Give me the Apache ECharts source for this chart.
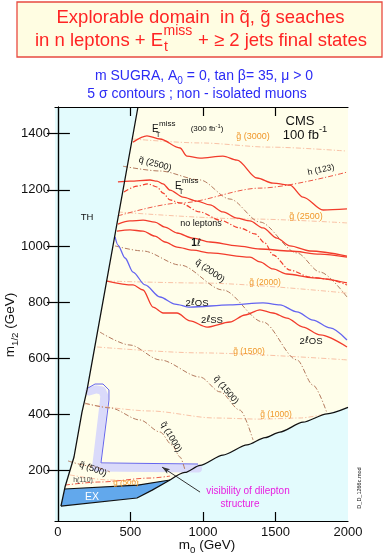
<!DOCTYPE html>
<html><head><meta charset="utf-8">
<script src="https://cdn.jsdelivr.net/npm/echarts@6/dist/echarts.min.js"></script>
<style>html,body{margin:0;padding:0;background:#fff}#c{width:384px;height:555px}</style>
</head><body><div id="c"></div>
<script>
// ---------- axis ticks ----------
const xTicks = [500, 1000, 1500];
const xLabels = [0, 500, 1000, 1500, 2000];
const yTicks = [200, 400, 600, 800, 1000, 1200, 1400];

// ---------- region boundaries  [m0, m1/2] ----------
const thBoundary = [[552,1495],[201,487],[166,408],[111,248],[49,141],[21,73]];
const exTop = [[46,134],[552,148],[773,166]];
const exBottom = [[21,73],[545,102],[650,130],[773,166]];
const lowerBoundary = [[773,166],[876,193],[980,218],[1138,255],[1304,291],[1428,317],[1531,337],[1690,372],[1855,402],[2000,425]];

// ---------- 5 sigma contours ----------
const etMiss300 = [[518,1370],[614,1392],[704,1381],[842,1349],[890,1320],[980,1313],[1138,1320],[1235,1306],[1373,1242],[1483,1224],[1600,1217],[1690,1174],[1828,1128],[1993,1132]];
const etMiss100 = [[414,1228],[497,1231],[635,1235],[683,1231],[725,1221],[773,1199],[862,1174],[959,1160],[1049,1146],[1138,1121],[1235,1099],[1324,1089],[1414,1064],[1510,1028],[1600,1000],[1738,982],[1993,964]];
const etMissDash = [[456,1192],[545,1213],[621,1221],[683,1210],[725,1188],[773,1164],[842,1153],[980,1121],[1118,1092],[1255,1064],[1359,1043],[1428,1010],[1483,968],[1600,914],[1738,889],[1855,882],[1993,861]];
const noLeptons = [[414,1078],[497,1089],[587,1092],[669,1085],[738,1067],[821,1046],[931,1028],[1049,1014],[1235,1000],[1393,989],[1600,982],[1807,971],[1993,960]];
const oneLepton = [[407,1053],[497,1057],[587,1053],[669,1035],[738,1014],[821,996],[931,985],[1049,975],[1324,960],[1393,943],[1483,918],[1579,900],[1759,886],[1993,868]];
const twoLepOSmu = [[394,1032],[414,1003],[463,957],[518,907],[601,861],[704,818],[807,793],[911,782],[1186,790],[1414,797],[1531,790],[1648,765],[1759,736],[1876,708],[1993,665]];
const twoLepSS = [[338,875],[518,861],[587,843],[656,782],[725,761],[821,761],[911,733],[1028,711],[1186,729],[1290,754],[1393,772],[1483,761],[1579,743],[1690,711],[1807,683],[1993,640]];

// ---------- iso-mass lines ----------
const sq2500 = [[449,1284],[704,1267],[980,1235],[1186,1167],[1393,1085],[1648,975],[1807,907],[1993,818]];
const sq2000 = [[394,1000],[587,982],[842,932],[1138,843],[1414,729],[1648,594],[1759,504],[1855,405]];
const sq1500 = [[290,693],[497,647],[704,594],[980,533],[1118,480],[1255,415],[1345,309]];
const sq1000 = [[187,440],[359,423],[566,380],[704,337],[787,291],[842,248],[876,202]];
const sq500 = [[70,234],[221,216],[359,195]];
const gl3000 = [[518,1381],[980,1367],[1462,1352],[1993,1338]];
const gl2500 = [[414,1121],[1324,1096],[1993,1082]];
const gl2000 = [[338,875],[980,868],[1993,832]];
const gl1500 = [[270,640],[980,619],[1993,594]];
const gl1000 = [[187,437],[635,412],[1083,387],[1393,383],[1669,387],[1842,401]];
const gl500 = [[83,184],[359,166],[566,159]];
const h123 = [[414,1107],[842,1153],[1393,1206],[1993,1263]];
const h110 = [[49,148],[290,159],[635,173],[773,180]];

// ---------- dilepton visibility band ----------
const bandEdge = [[208,494],[256,508],[311,508],[352,487],[352,451],[297,227],[966,223]];
const bandFill = [[216,482],[263,489],[304,485],[320,466],[314,433],[263,211],[966,207]];
const arrow = [[980,123],[718,212]];

const FF = '"Liberation Sans", Arial, "DejaVu Sans", sans-serif';
const RED = '#f23c2c', BLUE = '#6464f0', BROWN = '#b47a5e', PALE = '#f9c2a6', HRED = '#ee5846', ORANGE = '#f0982c';
const LIGHT = '#e3fbfd', CREAM = '#fffeea', EXBLUE = '#62a8ec';
const DD = [5, 2, 1.2, 2];

function ln(data, color, width, type, z, smooth) {
  return { type: 'line', data: data, symbol: 'none', showSymbol: false, silent: true,
    smooth: smooth === undefined ? 0.3 : smooth, smoothMonotone: 'x', z: z, animation: false,
    lineStyle: { color: color, width: width, type: type } };
}
function poly(points, fill, z) {
  return { type: 'custom', coordinateSystem: 'cartesian2d', data: [[0, 0]], z: z, silent: true, animation: false, clip: true,
    renderItem: function (params, api) {
      return { type: 'polygon', shape: { points: points.map(p => api.coord(p)) }, style: { fill: fill } };
    } };
}
const creamPoly = [...thBoundary.slice(0, 5), ...exTop, ...lowerBoundary.slice(1), [2000, 1495]];
const exPoly = [exTop[0], thBoundary[5], ...exBottom.slice(1), exTop[2], exTop[1]];

const lavender = ln(bandFill, '#dadafa', 8, 'solid', 2, false);
lavender.lineStyle.cap = 'round'; lavender.lineStyle.join = 'round';
const lower = ln(lowerBoundary, '#111', 1.3, 'solid', 8, 0.25);
lower.markLine = { silent: true, animation: false, symbol: ['none', 'arrow'], symbolSize: [4, 8],
  label: { show: false }, lineStyle: { color: '#333', width: 1, type: 'solid' },
  data: [[{ coord: arrow[0] }, { coord: arrow[1] }]] };

const series = [
  poly(creamPoly, CREAM, 1),
  poly(exPoly, EXBLUE, 1),
  lavender,
  ln(bandEdge, BLUE, 1, 'solid', 3, false),
  ln(gl3000, PALE, 1, DD, 3), ln(gl2500, PALE, 1, DD, 3), ln(gl2000, PALE, 1, DD, 3),
  ln(gl1500, PALE, 1, DD, 3), ln(gl1000, PALE, 1, DD, 3), ln(gl500, PALE, 1, DD, 3),
  ln(sq2500, BROWN, 1, DD, 3), ln(sq2000, BROWN, 1, DD, 3), ln(sq1500, BROWN, 1, DD, 3),
  ln(sq1000, BROWN, 1, DD, 3), ln(sq500, BROWN, 1, DD, 3),
  ln(h123, HRED, 1, DD, 4), ln(h110, HRED, 1, DD, 4),
  ln(etMissDash, RED, 1.2, DD, 4),
  ln(etMiss300, RED, 1.3, 'solid', 5), ln(etMiss100, RED, 1.3, 'solid', 5),
  ln(noLeptons, RED, 1.3, 'solid', 5), ln(oneLepton, RED, 1.3, 'solid', 5),
  ln(twoLepSS, RED, 1.3, 'solid', 5), ln(twoLepOSmu, BLUE, 1.3, 'solid', 5),
  ln(thBoundary, '#111', 1.3, 'solid', 8, false),
  ln(exTop, '#111', 1.2, 'solid', 8, false),
  ln(exBottom, '#111', 1.2, 'solid', 8, false),
  lower
];

function rich(size, color) {
  return {
    p: { fontSize: size * 0.72, fontFamily: FF, fill: color, verticalAlign: 'top', lineHeight: size * 0.8 },
    s: { fontSize: size * 0.72, fontFamily: FF, fill: color, verticalAlign: 'bottom', lineHeight: size * 0.8 },
    l: { fontSize: size, fontFamily: '"DejaVu Sans", sans-serif', fill: color, fontWeight: 'normal' }
  };
}
function txt(x, y, text, o) {
  o = o || {};
  const size = o.size || 9, color = o.color || '#111';
  return { type: 'text', x: x, y: y, rotation: (o.rot || 0) * Math.PI / 180, z: 100, silent: true,
    style: { text: text, fill: color, fontSize: size, fontFamily: FF, fontWeight: o.weight || 'normal',
      align: o.align || 'center', verticalAlign: 'middle', lineHeight: size * 1.5, rich: rich(size, color) } };
}

// title line 2 layout (measure text)
const cv = document.createElement('canvas').getContext('2d');
const TS = 18.5, TSS = 14;
cv.font = TS + 'px ' + FF;
const L2a = 'in n leptons + E', L2b = ' + \u2265 2 jets final states';
const wa = cv.measureText(L2a).width, wb = cv.measureText(L2b).width;
cv.font = TSS + 'px ' + FF;
const wm = cv.measureText('miss').width;
const x0 = 200.5 - (wa + wm + wb) / 2;
const TRED = '#ff2424';

const graphics = [
  { type: 'rect', z: 50, silent: true, shape: { x: 17, y: 2, width: 365, height: 55 },
    style: { fill: '#fffde2', stroke: '#e84a40', lineWidth: 1.3 } },
  txt(200.5, 18, 'Explorable domain  in q\u0303, g\u0303 seaches', { size: TS, color: TRED }),
  txt(x0, 41, L2a, { size: TS, color: TRED, align: 'left' }),
  txt(x0 + wa + 0.5, 31, 'miss', { size: TSS, color: TRED, align: 'left' }),
  txt(x0 + wa + 1, 47, 't', { size: TSS, color: TRED, align: 'left' }),
  txt(x0 + wa + wm + 1, 41, L2b, { size: TS, color: TRED, align: 'left' }),
  txt(204, 76, 'm SUGRA, A{s|0} = 0, tan \u03b2= 35, \u03bc > 0', { size: 14, color: '#2b2bf5' }),
  txt(197, 94, '5 \u03c3 contours ; non - isolated muons', { size: 14, color: '#2b2bf5' }),
  // axis titles
  txt(10, 325, 'm{s|1/2} (GeV)', { size: 13.5, rot: 90 }),
  txt(207, 545, 'm{s|0} (GeV)', { size: 13.5 }),
  // plot labels
  txt(152, 129, 'E', { size: 10, align: 'left' }),
  txt(159, 124, 'miss', { size: 8, align: 'left' }),
  txt(156, 135, 'T', { size: 7, align: 'left' }),
  txt(207, 129, '(300 fb{p|-1})', { size: 8 }),
  txt(175, 186, 'E', { size: 10, align: 'left' }),
  txt(182, 181, 'miss', { size: 8, align: 'left' }),
  txt(179, 192, 'T', { size: 7, align: 'left' }),
  txt(300, 121, 'CMS', { size: 13 }),
  txt(305, 135, '100 fb{p|-1}', { size: 13 }),
  txt(155, 164, 'q\u0303 (2500)', { size: 9, rot: -15 }),
  txt(253, 137, 'g\u0303 (3000)', { size: 9, color: ORANGE }),
  txt(321, 170, 'h (123)', { size: 8.5, rot: 12 }),
  txt(201, 224, 'no leptons', { size: 9 }),
  txt(306, 217, 'g\u0303 (2500)', { size: 9, color: ORANGE }),
  txt(196, 243, '1{l|\u2113}', { size: 10, weight: 'bold' }),
  txt(210, 271, 'q\u0303 (2000)', { size: 9, rot: -35 }),
  txt(265, 283, 'g\u0303 (2000)', { size: 8.5, color: ORANGE }),
  txt(197, 303, '2{l|\u2113}OS', { size: 9.5 }),
  txt(212, 320, '2{l|\u2113}SS', { size: 9.5 }),
  txt(311, 341, '2{l|\u2113}OS', { size: 9.5 }),
  txt(249, 352, 'g\u0303 (1500)', { size: 8.5, color: ORANGE }),
  txt(226, 390, 'q\u0303 (1500)', { size: 9, rot: -50 }),
  txt(276, 415, 'g\u0303 (1000)', { size: 8.5, color: ORANGE }),
  txt(171, 437, 'q\u0303 (1000)', { size: 9, rot: -60 }),
  txt(93, 469, 'q\u0303 (500)', { size: 9, rot: -20 }),
  txt(83, 480, 'h(110)', { size: 7, color: '#444' }),
  txt(126, 483, 'g\u0303 (500)', { size: 8, color: ORANGE }),
  txt(92, 497, 'EX', { size: 10.5, color: '#fff' }),
  txt(87, 217, 'TH', { size: 9.5 }),
  txt(248, 491, 'visibility of dilepton', { size: 10, color: '#e81ee0' }),
  txt(240, 504, 'structure', { size: 10, color: '#e81ee0' }),
  txt(359, 488, 'D_D_1266c.mod', { size: 5.5, rot: 90 })
];

const axisLine = { show: true, lineStyle: { color: '#000', width: 1.2 } };
const lblStyle = { fontSize: 13, color: '#111', fontFamily: FF, formatter: v => String(v) };
const option = {
  animation: false,
  backgroundColor: '#fff',
  grid: { left: 55, right: 36, top: 107, bottom: 34, show: true, backgroundColor: LIGHT, borderWidth: 0 },
  xAxis: [
    { type: 'value', min: -20, max: 2000, position: 'bottom', z: 10, axisLine: axisLine,
      axisTick: { show: true, inside: true, length: 9, customValues: xTicks, lineStyle: { color: '#000', width: 1.2 } },
      axisLabel: Object.assign({ customValues: xLabels, margin: 5 }, lblStyle), splitLine: { show: false } },
    { type: 'value', min: -20, max: 2000, position: 'top', z: 10, axisLine: axisLine,
      axisTick: { show: true, inside: true, length: 9, customValues: xTicks, lineStyle: { color: '#000', width: 1.2 } },
      axisLabel: { show: false }, splitLine: { show: false } }
  ],
  yAxis: [
    { type: 'value', min: 20, max: 1495, position: 'left', z: 10, axisLine: axisLine,
      axisTick: { show: true, inside: true, length: 12, customValues: yTicks, lineStyle: { color: '#000', width: 1.2 } },
      axisLabel: Object.assign({ customValues: yTicks, margin: 5 }, lblStyle), splitLine: { show: false } },
    { type: 'value', min: 20, max: 1495, position: 'right', z: 10, axisLine: axisLine,
      axisTick: { show: true, inside: true, length: 11, customValues: yTicks, lineStyle: { color: '#000', width: 1.2 } },
      axisLabel: { show: false }, splitLine: { show: false } }
  ],
  series: series,
  graphic: graphics
};
const chart = echarts.init(document.getElementById('c'));
chart.setOption(option);
</script></body></html>
